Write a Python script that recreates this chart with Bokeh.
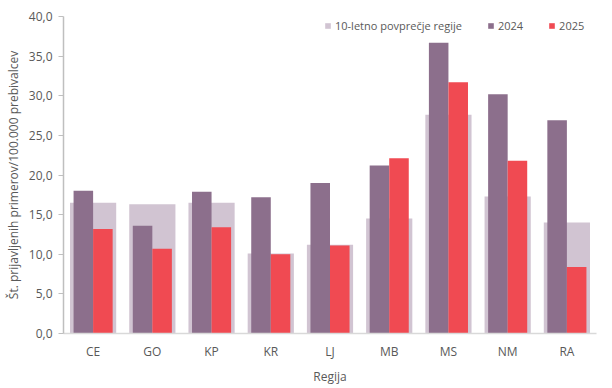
from bokeh.plotting import figure
from bokeh.models import ColumnDataSource, FactorRange, FixedTicker, Legend, LegendItem
from bokeh.transform import dodge
from bokeh.embed import file_html
from bokeh.resources import INLINE

regions = ["CE", "GO", "KP", "KR", "LJ", "MB", "MS", "NM", "RA"]
avg10 = [16.5, 16.3, 16.5, 10.1, 11.2, 14.5, 27.6, 17.3, 14.0]
y2024 = [18.0, 13.6, 17.9, 17.2, 19.0, 21.2, 36.7, 30.2, 26.9]
y2025 = [13.2, 10.7, 13.4, 10.0, 11.1, 22.1, 31.7, 21.8, 8.4]
y_ticks = [0, 5, 10, 15, 20, 25, 30, 35, 40]
y_tick_labels = ["0,0", "5,0", "10,0", "15,0", "20,0", "25,0", "30,0", "35,0", "40,0"]

FONT = "Open Sans"
TXT = "#595959"
C_AVG = "#d1c4d2"
C_24 = "#8c6f8c"
C_25 = "#f04a52"

src = ColumnDataSource(dict(region=regions, avg=avg10, y24=y2024, y25=y2025))

p = figure(x_range=FactorRange(*regions, range_padding=0), y_range=(0, 40),
           width=612, height=388, output_backend="svg", toolbar_location=None,
           min_border_left=63, min_border_right=16, min_border_top=16, min_border_bottom=55)

r_avg = p.vbar(x="region", top="avg", width=0.78, source=src, color=C_AVG, line_color=None)
r_24 = p.vbar(x=dodge("region", -0.165, range=p.x_range), top="y24", width=0.33,
              source=src, color=C_24, line_color=None)
r_25 = p.vbar(x=dodge("region", 0.165, range=p.x_range), top="y25", width=0.33,
              source=src, color=C_25, line_color=None)

p.outline_line_color = None
p.xgrid.grid_line_color = None
p.ygrid.grid_line_color = None
p.background_fill_color = "white"
p.border_fill_color = "white"

# y axis
p.yaxis.ticker = FixedTicker(ticks=y_ticks)
p.yaxis.major_label_overrides = {t: l for t, l in zip(y_ticks, y_tick_labels)}
p.yaxis.axis_line_color = "#bfbfbf"
p.yaxis.axis_line_width = 1.5
p.yaxis.major_tick_line_color = "#bfbfbf"
p.yaxis.major_tick_out = 5
p.yaxis.major_tick_in = 0
p.yaxis.minor_tick_line_color = None
p.yaxis.minor_tick_out = 0
p.yaxis.major_label_standoff = 6
p.yaxis.axis_label = "Št. prijavljenih primerov/100.000 prebivalcev"
p.yaxis.axis_label_standoff = 4

# x axis
p.xaxis.axis_line_color = "#d9d9d9"
p.xaxis.axis_line_width = 1.5
p.xaxis.major_tick_line_color = None
p.xaxis.major_tick_out = 0
p.xaxis.major_tick_in = 0
p.xaxis.minor_tick_line_color = None
p.xaxis.minor_tick_out = 0
p.xaxis.major_label_standoff = 9
p.xaxis.axis_label = "Regija"
p.xaxis.axis_label_standoff = 5

for ax in (p.xaxis[0], p.yaxis[0]):
    ax.major_label_text_font = FONT
    ax.major_label_text_font_size = "12px"
    ax.major_label_text_color = TXT
    ax.axis_label_text_font = FONT
    ax.axis_label_text_font_size = "12px"
    ax.axis_label_text_font_style = "normal"
    ax.axis_label_text_color = TXT

legend = Legend(items=[LegendItem(label="10-letno povprečje regije", renderers=[r_avg]),
                       LegendItem(label="2024", renderers=[r_24]),
                       LegendItem(label="2025", renderers=[r_25])],
                orientation="horizontal", location=(261, 300),
                glyph_width=7, glyph_height=7, label_height=12, label_standoff=4,
                spacing=25, padding=0, margin=0,
                label_text_font=FONT, label_text_font_size="11px", label_text_color=TXT,
                background_fill_alpha=0, border_line_color=None)
p.add_layout(legend, "center")

open("out.html", "w").write(file_html(p, INLINE))
